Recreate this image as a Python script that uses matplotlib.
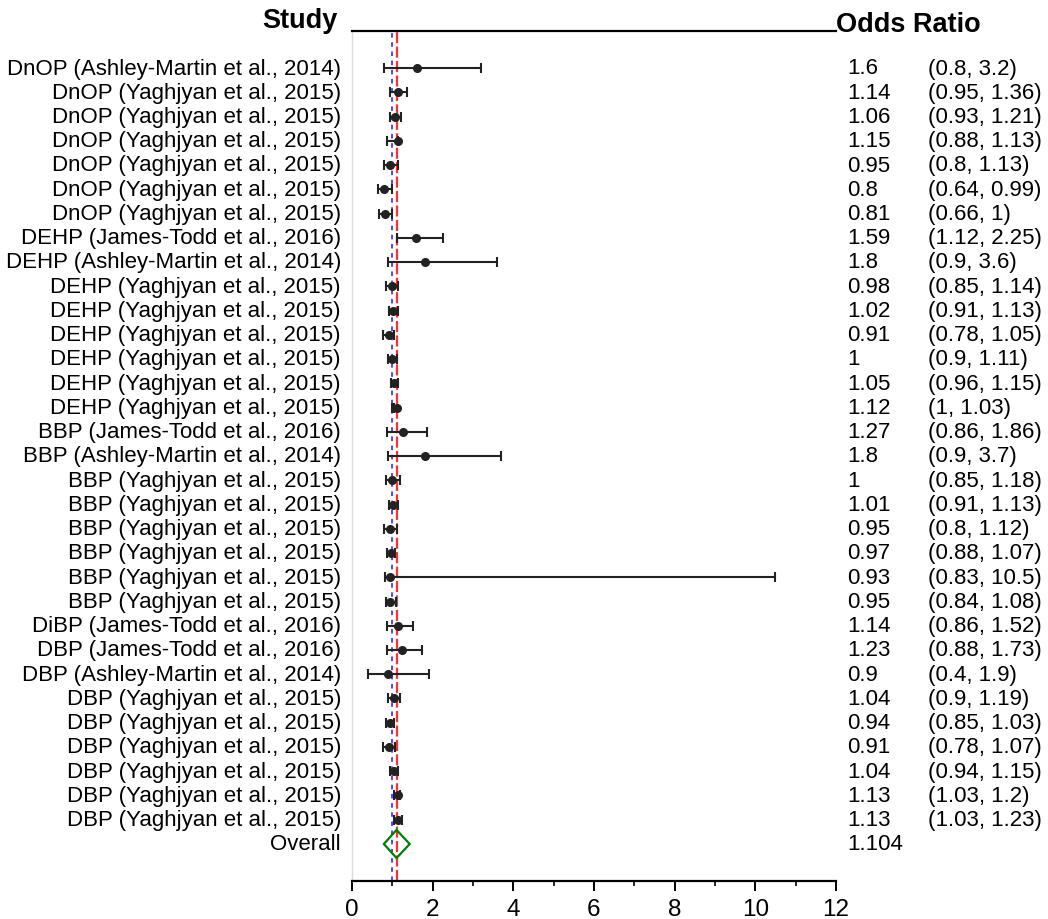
import matplotlib
matplotlib.use("Agg")
import matplotlib.pyplot as plt
from matplotlib.patches import Polygon
from matplotlib.transforms import blended_transform_factory

plt.rcParams["font.family"] = ["Liberation Sans", "DejaVu Sans"]

# Study labels, odds ratios and 95% confidence intervals
studies = [
    "DnOP (Ashley-Martin et al., 2014)",
    "DnOP (Yaghjyan et al., 2015)",
    "DnOP (Yaghjyan et al., 2015)",
    "DnOP (Yaghjyan et al., 2015)",
    "DnOP (Yaghjyan et al., 2015)",
    "DnOP (Yaghjyan et al., 2015)",
    "DnOP (Yaghjyan et al., 2015)",
    "DEHP (James-Todd et al., 2016)",
    "DEHP (Ashley-Martin et al., 2014)",
    "DEHP (Yaghjyan et al., 2015)",
    "DEHP (Yaghjyan et al., 2015)",
    "DEHP (Yaghjyan et al., 2015)",
    "DEHP (Yaghjyan et al., 2015)",
    "DEHP (Yaghjyan et al., 2015)",
    "DEHP (Yaghjyan et al., 2015)",
    "BBP (James-Todd et al., 2016)",
    "BBP (Ashley-Martin et al., 2014)",
    "BBP (Yaghjyan et al., 2015)",
    "BBP (Yaghjyan et al., 2015)",
    "BBP (Yaghjyan et al., 2015)",
    "BBP (Yaghjyan et al., 2015)",
    "BBP (Yaghjyan et al., 2015)",
    "BBP (Yaghjyan et al., 2015)",
    "DiBP (James-Todd et al., 2016)",
    "DBP (James-Todd et al., 2016)",
    "DBP (Ashley-Martin et al., 2014)",
    "DBP (Yaghjyan et al., 2015)",
    "DBP (Yaghjyan et al., 2015)",
    "DBP (Yaghjyan et al., 2015)",
    "DBP (Yaghjyan et al., 2015)",
    "DBP (Yaghjyan et al., 2015)",
    "DBP (Yaghjyan et al., 2015)",
]
odds_ratio = [1.6, 1.14, 1.06, 1.15, 0.95, 0.8, 0.81,
              1.59, 1.8, 0.98, 1.02, 0.91, 1, 1.05, 1.12,
              1.27, 1.8, 1, 1.01, 0.95, 0.97, 0.93, 0.95,
              1.14, 1.23, 0.9, 1.04, 0.94, 0.91, 1.04, 1.13, 1.13]
ci_lower = [0.8, 0.95, 0.93, 0.88, 0.8, 0.64, 0.66,
            1.12, 0.9, 0.85, 0.91, 0.78, 0.9, 0.96, 1,
            0.86, 0.9, 0.85, 0.91, 0.8, 0.88, 0.83, 0.84,
            0.86, 0.88, 0.4, 0.9, 0.85, 0.78, 0.94, 1.03, 1.03]
ci_upper = [3.2, 1.36, 1.21, 1.13, 1.13, 0.99, 1,
            2.25, 3.6, 1.14, 1.13, 1.05, 1.11, 1.15, 1.03,
            1.86, 3.7, 1.18, 1.13, 1.12, 1.07, 10.5, 1.08,
            1.52, 1.73, 1.9, 1.19, 1.03, 1.07, 1.15, 1.2, 1.23]

overall_label = "Overall"
overall_or = 1.104
overall_ci = (0.79, 1.43)
null_value = 1.0

x_ticks = [0, 2, 4, 6, 8, 10, 12]

W, H = 1048, 920
fig = plt.figure(figsize=(W / 100, H / 100), dpi=100)
ax_left, ax_right, ax_top, ax_bottom = 352, 836, 32, 882
ax = fig.add_axes([ax_left / W, 1 - ax_bottom / H,
                   (ax_right - ax_left) / W, (ax_bottom - ax_top) / H])

n = len(studies)
rows = list(range(n))
overall_row = n

mark_color = "#222222"
ax.hlines(rows, ci_lower, ci_upper, color=mark_color, lw=1.5, zorder=3)
ax.plot(ci_lower, rows, ls="none", marker="|", ms=6.5, mew=1.5, color=mark_color, zorder=3)
ax.plot(ci_upper, rows, ls="none", marker="|", ms=6.5, mew=1.5, color=mark_color, zorder=3)
ax.plot(odds_ratio, rows, ls="none", marker="o", ms=5.5, color=mark_color, zorder=4)

# Pooled estimate as a diamond
half_h = 0.58
diamond = Polygon([(overall_ci[0], overall_row), (overall_or, overall_row - half_h),
                   (overall_ci[1], overall_row), (overall_or, overall_row + half_h)],
                  closed=True, fill=False, edgecolor="#008000", lw=1.6, zorder=4)
ax.add_patch(diamond)

# Reference lines: pooled estimate and null effect
ax.axvline(overall_or, color="#ff3030", lw=1.6, dashes=(5, 1.5), zorder=2)
ax.axvline(null_value, color="#1a1aff", lw=1.1, dashes=(3, 3), zorder=2)

ax.set_xlim(0, 12)
row_px = (845 - 69) / 32
ax.set_ylim((ax_bottom - 69) / row_px, -(69 - ax_top) / row_px)

ax.set_xticks(x_ticks)
ax.set_xticks(range(1, 12, 2), minor=True)
ax.set_yticks([])
ax.tick_params(axis="x", which="major", length=7, width=1.4, labelsize=17.5, pad=5.5)
ax.tick_params(axis="x", which="minor", length=3.5, width=1.2)
ax.spines["right"].set_visible(False)
ax.spines["top"].set_linewidth(1.6)
ax.spines["bottom"].set_linewidth(1.6)
ax.spines["left"].set_color("#dddddd")
ax.spines["left"].set_linewidth(1.0)

trans = blended_transform_factory(fig.transFigure, ax.transData)
fs = 16
for i in rows:
    ax.text(341 / W, i, studies[i], transform=trans, ha="right", va="center", fontsize=fs)
    ax.text(847 / W, i, f"{odds_ratio[i]:g}", transform=trans, ha="left", va="center", fontsize=fs)
    ax.text(928 / W, i, f"({ci_lower[i]:g}, {ci_upper[i]:g})", transform=trans,
            ha="left", va="center", fontsize=fs)
ax.text(341 / W, overall_row, overall_label, transform=trans, ha="right", va="center", fontsize=fs)
ax.text(847 / W, overall_row, f"{overall_or:g}", transform=trans, ha="left", va="center", fontsize=fs)

fig.text(338 / W, 1 - 28 / H, "Study", ha="right", va="baseline", fontsize=19.5, fontweight="bold")
fig.text(836 / W, 1 - 32 / H, "Odds Ratio", ha="left", va="baseline", fontsize=19.5, fontweight="bold")

fig.savefig("out.png", dpi=100)
